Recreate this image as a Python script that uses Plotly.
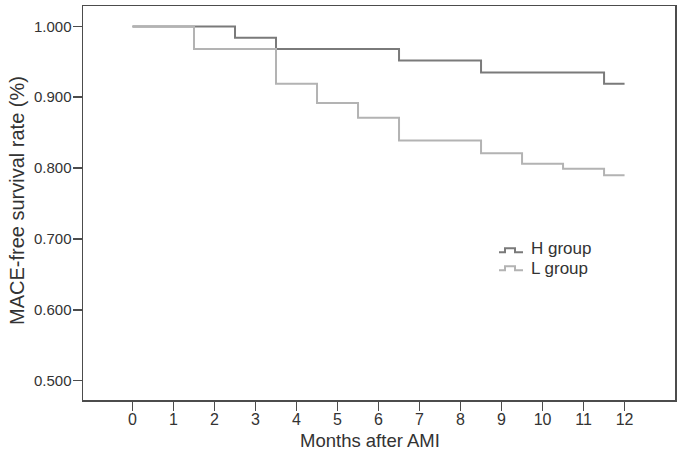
import plotly.graph_objects as go

# Kaplan-Meier step data (months after AMI, MACE-free survival)
h_months = [0, 2.5, 3.5, 6.5, 8.5, 11.5, 12]
h_surv = [1.000, 0.984, 0.968, 0.952, 0.935, 0.919, 0.919]
l_months = [0, 1.5, 3.5, 4.5, 5.5, 6.5, 8.5, 9.5, 10.5, 11.5, 12]
l_surv = [1.000, 0.968, 0.919, 0.892, 0.871, 0.839, 0.821, 0.806, 0.799, 0.790, 0.790]
series_names = ["H group", "L group"]
x_ticks = list(range(0, 13))
y_ticks = [0.5, 0.6, 0.7, 0.8, 0.9, 1.0]
y_ticktext = ["0.500", "0.600", "0.700", "0.800", "0.900", "1.000"]

H_COLOR = "#7a7a7a"
L_COLOR = "#b3b3b3"
AXIS_COLOR = "#4c4c4c"
TEXT_COLOR = "#333333"
TITLE_FONT = "Arial, Liberation Sans, sans-serif"
TICK_FONT = "Arial, Liberation Sans, sans-serif"

W, H = 688, 456
L_M, R_M, T_M, B_M = 83, 13, 4, 56
PW, PH = W - L_M - R_M, H - T_M - B_M


def px(x):
    return (x - L_M) / PW


def py(y):
    return (H - B_M - y) / PH


fig = go.Figure()
fig.add_trace(go.Scatter(x=h_months, y=h_surv, mode="lines", line_shape="hv",
                         line=dict(color=H_COLOR, width=2), name=series_names[0],
                         showlegend=False, hoverinfo="skip"))
fig.add_trace(go.Scatter(x=l_months, y=l_surv, mode="lines", line_shape="hv",
                         line=dict(color=L_COLOR, width=2), name=series_names[1],
                         showlegend=False, hoverinfo="skip"))

# custom legend with step glyphs
shapes = []
annotations = []
for name, color, yl, yh, yt in [(series_names[0], H_COLOR, 251.5, 247.5, 248),
                                (series_names[1], L_COLOR, 269.5, 265.5, 268)]:
    x0, x1, x2, x3 = px(499), px(505), px(515), px(523)
    path = (f"M {x0} {py(yl)} L {x1} {py(yl)} L {x1} {py(yh)} L {x2} {py(yh)} "
            f"L {x2} {py(yl)} L {x3} {py(yl)}")
    shapes.append(dict(type="path", xref="paper", yref="paper", path=path,
                       line=dict(color=color, width=2)))
    annotations.append(dict(xref="paper", yref="paper", x=px(529), y=py(yt),
                            xanchor="left", yanchor="middle", text=name,
                            showarrow=False,
                            font=dict(family=TITLE_FONT, size=17, color=TEXT_COLOR)))

# axis titles
annotations.append(dict(xref="paper", yref="paper", x=px(370), y=py(441),
                        xanchor="center", yanchor="middle", text="Months after AMI",
                        showarrow=False,
                        font=dict(family=TITLE_FONT, size=18.5, color=TEXT_COLOR)))
annotations.append(dict(xref="paper", yref="paper", x=px(17), y=py(200),
                        xanchor="center", yanchor="middle", textangle=-90,
                        text="MACE-free survival rate (%)", showarrow=False,
                        font=dict(family=TITLE_FONT, size=20, color=TEXT_COLOR)))

fig.update_layout(
    width=W, height=H,
    margin=dict(l=L_M, r=R_M, t=T_M, b=B_M),
    paper_bgcolor="white", plot_bgcolor="white",
    shapes=shapes, annotations=annotations,
    showlegend=False,
)
fig.update_xaxes(range=[-1.207, 13.23], tickvals=x_ticks, ticks="outside", ticklen=9,
                 tickwidth=1.5, tickcolor=AXIS_COLOR, showline=True, mirror=True,
                 linecolor=AXIS_COLOR, linewidth=1.5, showgrid=False, zeroline=False,
                 ticklabelstandoff=-5,
                 tickfont=dict(family=TICK_FONT, size=16, color=TEXT_COLOR))
fig.update_yaxes(range=[0.4726, 1.0288], tickvals=y_ticks, ticktext=y_ticktext,
                 ticks="outside", ticklen=9, tickwidth=1.5, tickcolor=AXIS_COLOR,
                 showline=True, mirror=True, linecolor=AXIS_COLOR, linewidth=1.5,
                 showgrid=False, zeroline=False, ticklabelstandoff=-2,
                 tickfont=dict(family=TICK_FONT, size=15, color=TEXT_COLOR))

fig.write_html("out.html", config={"displayModeBar": False, "staticPlot": True},
               post_script="document.body.style.margin='0';document.body.style.padding='0';")
